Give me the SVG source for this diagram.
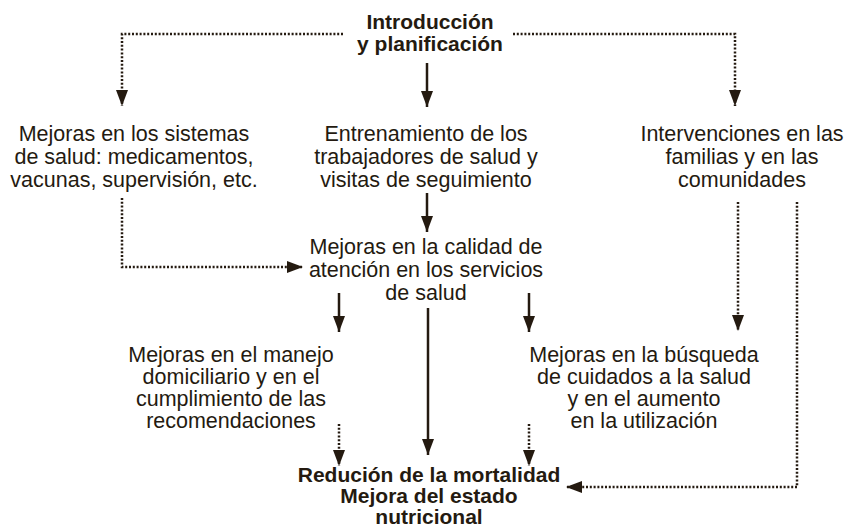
<svg xmlns="http://www.w3.org/2000/svg" width="848" height="528" viewBox="0 0 848 528">
<defs>
<marker id="ah" viewBox="0 0 16 12" refX="16" refY="6" markerWidth="16" markerHeight="12" markerUnits="userSpaceOnUse" orient="auto">
<path d="M0,0 L16,6 L0,12 z" fill="#241a10"/>
</marker>
</defs>
<style>
text{font-family:"Liberation Sans",Arial,sans-serif;font-size:21.5px;fill:#241a10;text-anchor:middle}
.b{font-weight:bold;font-size:21px}
.s{stroke:#241a10;stroke-width:2.5;fill:none}
.d{stroke:#241a10;stroke-width:2.5;fill:none;stroke-dasharray:2 1.8}
</style>
<rect width="848" height="528" fill="#fff"/>
<g id="n1"><text class="b" x="430" y="29">Introducción</text><text class="b" x="430" y="51">y planificación</text></g>
<g id="n2"><text x="134" y="141">Mejoras en los sistemas</text><text x="134" y="164">de salud: medicamentos,</text><text x="134" y="187">vacunas, supervisión, etc.</text></g>
<g id="n3"><text x="426" y="141">Entrenamiento de los</text><text x="426" y="164">trabajadores de salud y</text><text x="426" y="187">visitas de seguimiento</text></g>
<g id="n4"><text x="742" y="141">Intervenciones en las</text><text x="742" y="164">familias y en las</text><text x="742" y="187">comunidades</text></g>
<g id="n5"><text x="426" y="254">Mejoras en la calidad de</text><text x="426" y="277">atención en los servicios</text><text x="426" y="300">de salud</text></g>
<g id="n6"><text x="231" y="362">Mejoras en el manejo</text><text x="231" y="384">domiciliario y en el</text><text x="231" y="406">cumplimiento de las</text><text x="231" y="428">recomendaciones</text></g>
<g id="n7"><text x="644" y="362">Mejoras en la búsqueda</text><text x="644" y="384">de cuidados a la salud</text><text x="644" y="406">y en el aumento</text><text x="644" y="428">en la utilización</text></g>
<g id="n8"><text class="b" x="429" y="482">Redución de la mortalidad</text><text class="b" x="429" y="503">Mejora del estado</text><text class="b" x="429" y="524">nutricional</text></g>
<g id="connectors">
<path class="d" d="M343,34 H122 V106" marker-end="url(#ah)"/>
<path class="d" d="M513,34 H735 V106" marker-end="url(#ah)"/>
<path class="s" d="M427,63 V107" marker-end="url(#ah)"/>
<path class="d" d="M122,198 V267 H303" marker-end="url(#ah)"/>
<path class="s" d="M427,193 V232" marker-end="url(#ah)"/>
<path class="d" d="M738,202 V331" marker-end="url(#ah)"/>
<path class="d" d="M797,202 V487 H566" marker-end="url(#ah)"/>
<path class="s" d="M339,293 V332" marker-end="url(#ah)"/>
<path class="s" d="M529,293 V332" marker-end="url(#ah)"/>
<path class="s" d="M428,308 V455" marker-end="url(#ah)"/>
<path class="d" d="M339,424 V466" marker-end="url(#ah)"/>
<path class="d" d="M529,424 V466" marker-end="url(#ah)"/>
</g>
</svg>
